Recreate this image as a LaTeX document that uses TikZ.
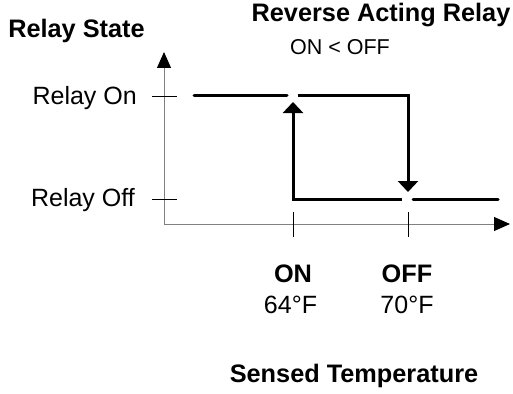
\documentclass[tikz,border=0pt]{standalone}
\usepackage{fontspec}
\setmainfont{Liberation Sans}
\usetikzlibrary{arrows.meta}

\begin{document}
\begin{tikzpicture}[x=1pt, y=-1pt,
    axis/.style={draw=gray, line width=1pt, -{Triangle[width=14pt, length=16pt, color=black]}},
    tick/.style={draw=black, line width=0.8pt},
    relay/.style={line width=3pt},
    switch/.style={line width=3pt, -{Triangle[width=20pt, length=11pt]}},
    txt/.style={font=\fontsize{25}{28}\selectfont, inner sep=0pt, anchor=base},
    bold/.style={txt, font=\fontsize{25.3}{28}\selectfont\bfseries}]
    \useasboundingbox (0,0) rectangle (513,393);
    % axes
    \coordinate (o) at (164,224);
    \coordinate (ytop) at (164,52);
    \coordinate (xend) at (510,224);
    \draw[axis] (o) -- (ytop);
    \draw[axis] (o) -- (xend);
    \foreach \y in {96,199}
        \draw[tick] (152,\y) -- (177,\y);
    \foreach \x in {293,408}
        \draw[tick] (\x,212) -- (\x,237);
    % relay states
    \coordinate (on1) at (194,96);
    \coordinate (on2) at (287,96);
    \coordinate (on3) at (298,96);
    \coordinate (on4) at (408,96);
    \coordinate (down) at (408,192);
    \coordinate (off1) at (293,199);
    \coordinate (off2) at (402,199);
    \coordinate (off3) at (413,199);
    \coordinate (off4) at (498,199);
    \coordinate (up) at (293,102);
    \draw[relay, line cap=round] (on1) -- (on2);
    \draw[relay, line cap=round] (off3) -- (off4);
    \draw[switch] (on3) -- (on4) -- (down);
    \draw[switch] (off2) -- (off1) -- (up);
    % labels
    \node[bold] (state) at (76.5,38) {Relay State};
    \node[bold] (title) at (381,22) {Reverse Acting Relay};
    \node[txt, font=\fontsize{21.5}{26}\selectfont] (rule) at (340,55) {ON < OFF};
    \node[txt, anchor=base east] (lon) at (137,104) {Relay On};
    \node[txt, anchor=base east] (loff) at (135,206) {Relay Off};
    \node[bold] (son) at (293,282) {ON};
    \node[txt] (ton) at (290.5,313) {64°F};
    \node[bold] (soff) at (407,282) {OFF};
    \node[txt] (toff) at (407,313) {70°F};
    \node[bold] (sensed) at (354,382) {Sensed Temperature};
\end{tikzpicture}
\end{document}
